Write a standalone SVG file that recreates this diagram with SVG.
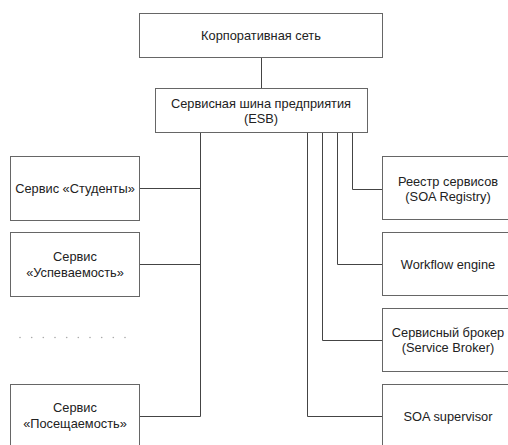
<svg xmlns="http://www.w3.org/2000/svg" width="508" height="445" viewBox="0 0 508 445">
<style>
.box{fill:#fff;stroke:#666;stroke-width:1}
.t{font-family:"Liberation Sans",Arial,sans-serif;font-size:12.8px;fill:#222;text-anchor:middle}
.c{fill:none;stroke:#444;stroke-width:1}
.dot{fill:#aaa}
</style>
<rect width="508" height="445" fill="#fff"/>
<g id="connectors">
<path class="c" d="M261.5 58V88.5"/>
<path class="c" d="M200.5 133V416.5H139"/>
<path class="c" d="M139 188.5H200.5"/>
<path class="c" d="M139 264.5H200.5"/>
<path class="c" d="M352.5 133V189.5H382"/>
<path class="c" d="M337.5 133V264.5H382"/>
<path class="c" d="M322.5 133V340.5H382"/>
<path class="c" d="M307.5 133V416.5H382"/>
</g>
<g id="corp"><rect class="box" x="139.5" y="13.5" width="243" height="44"/><text class="t" x="261" y="40">Корпоративная сеть</text></g>
<g id="esb"><rect class="box" x="155.5" y="88.5" width="212" height="44"/><text class="t" x="261" y="107.5">Сервисная шина предприятия</text><text class="t" x="261" y="122.5">(ESB)</text></g>
<g id="students"><rect class="box" x="10.5" y="156.5" width="129" height="64"/><text class="t" x="75" y="192.5">Сервис «Студенты»</text></g>
<g id="progress"><rect class="box" x="10.5" y="232.5" width="129" height="64"/><text class="t" x="75" y="261">Сервис</text><text class="t" x="75" y="276.5">«Успеваемость»</text></g>
<g id="ellipsis"><circle class="dot" cx="20" cy="337.5" r="0.8"/><circle class="dot" cx="31.7" cy="337.5" r="0.8"/><circle class="dot" cx="43.3" cy="337.5" r="0.8"/><circle class="dot" cx="55" cy="337.5" r="0.8"/><circle class="dot" cx="66.7" cy="337.5" r="0.8"/><circle class="dot" cx="78.3" cy="337.5" r="0.8"/><circle class="dot" cx="90" cy="337.5" r="0.8"/><circle class="dot" cx="101.7" cy="337.5" r="0.8"/><circle class="dot" cx="113.3" cy="337.5" r="0.8"/><circle class="dot" cx="125" cy="337.5" r="0.8"/></g>
<g id="attendance"><rect class="box" x="10.5" y="384.5" width="129" height="64"/><text class="t" x="75" y="411.5">Сервис</text><text class="t" x="75" y="428">«Посещаемость»</text></g>
<g id="registry"><rect class="box" x="382.5" y="156.5" width="131" height="63"/><text class="t" x="448" y="185.5">Реестр сервисов</text><text class="t" x="448" y="200.5">(SOA Registry)</text></g>
<g id="workflow"><rect class="box" x="382.5" y="232.5" width="131" height="63"/><text class="t" x="448" y="268.5">Workflow engine</text></g>
<g id="broker"><rect class="box" x="382.5" y="308.5" width="131" height="63"/><text class="t" x="448" y="337">Сервисный брокер</text><text class="t" x="448" y="352">(Service Broker)</text></g>
<g id="supervisor"><rect class="box" x="382.5" y="384.5" width="131" height="64"/><text class="t" x="448" y="420.5">SOA supervisor</text></g>
</svg>
